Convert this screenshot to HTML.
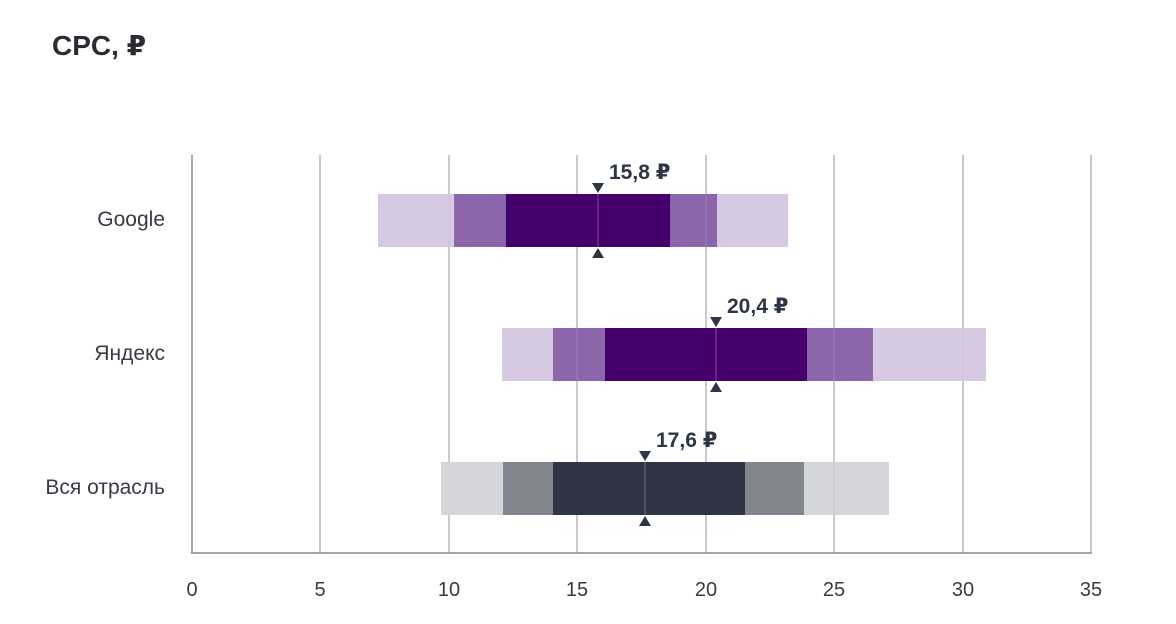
<!DOCTYPE html>
<html><head><meta charset="utf-8"><style>
body{margin:0;background:#fff;}
svg{display:block;font-family:"Liberation Sans","DejaVu Sans",sans-serif;}
</style></head><body>
<svg width="1176" height="624" viewBox="0 0 1176 624">
<text x="52" y="55" font-size="28" font-weight="bold" fill="#2b2b33">CPC, ₽</text>
<g stroke="#b8b8bc" stroke-width="1.5">
<line x1="320" y1="155" x2="320" y2="553"/><line x1="449" y1="155" x2="449" y2="553"/>
<line x1="577" y1="155" x2="577" y2="553"/><line x1="706" y1="155" x2="706" y2="553"/>
<line x1="834" y1="155" x2="834" y2="553"/><line x1="963" y1="155" x2="963" y2="553"/>
<line x1="1091" y1="155" x2="1091" y2="553"/>
</g>
<!-- Google -->
<rect x="378" y="194" width="410" height="53" fill="#d8c9e3"/>
<rect x="454" y="194" width="263" height="53" fill="#8c66ab"/>
<rect x="506" y="194" width="164" height="53" fill="#45006c"/>
<!-- Yandex -->
<rect x="502" y="328" width="484" height="53" fill="#d8c9e3"/>
<rect x="553" y="328" width="320" height="53" fill="#8c66ab"/>
<rect x="605" y="328" width="202" height="53" fill="#45006c"/>
<!-- Industry -->
<rect x="441" y="462" width="448" height="53" fill="#d5d6da"/>
<rect x="503" y="462" width="301" height="53" fill="#82868f"/>
<rect x="553" y="462" width="192" height="53" fill="#2e3545"/>
<g stroke="#b8b8bc" stroke-width="1" opacity="0.35">
<line x1="449" y1="194" x2="449" y2="247"/><line x1="706" y1="194" x2="706" y2="247"/>
<line x1="577" y1="328" x2="577" y2="381"/><line x1="834" y1="328" x2="834" y2="381"/><line x1="963" y1="328" x2="963" y2="381"/>
<line x1="834" y1="462" x2="834" y2="515"/>
</g>
<g stroke="#fff" stroke-width="1" opacity="0.3">
<line x1="598" y1="194" x2="598" y2="247"/><line x1="716" y1="328" x2="716" y2="381"/><line x1="645" y1="462" x2="645" y2="515"/>
</g>
<g fill="#2e3545">
<polygon points="592,183 604,183 598,193"/><polygon points="592,258 604,258 598,248"/>
<polygon points="710,317 722,317 716,327"/><polygon points="710,392 722,392 716,382"/>
<polygon points="639,451 651,451 645,461"/><polygon points="639,526 651,526 645,516"/>
</g>
<g font-size="21" font-weight="bold" fill="#2e3545">
<text x="609" y="179">15,8 ₽</text>
<text x="727" y="313">20,4 ₽</text>
<text x="656" y="447">17,6 ₽</text>
</g>
<g font-size="21" fill="#3a3a44" text-anchor="end">
<text x="165" y="226">Google</text>
<text x="165" y="360">Яндекс</text>
<text x="165" y="494">Вся отрасль</text>
</g>
<line x1="192" y1="155" x2="192" y2="553" stroke="#8a8a90" stroke-width="1.5"/>
<line x1="191" y1="553" x2="1092" y2="553" stroke="#8a8a90" stroke-width="1.5"/>
<g font-size="20" fill="#3a3a44" text-anchor="middle">
<text x="192" y="596">0</text><text x="320" y="596">5</text><text x="449" y="596">10</text>
<text x="577" y="596">15</text><text x="706" y="596">20</text><text x="834" y="596">25</text>
<text x="963" y="596">30</text><text x="1091" y="596">35</text>
</g>
</svg>
</body></html>
